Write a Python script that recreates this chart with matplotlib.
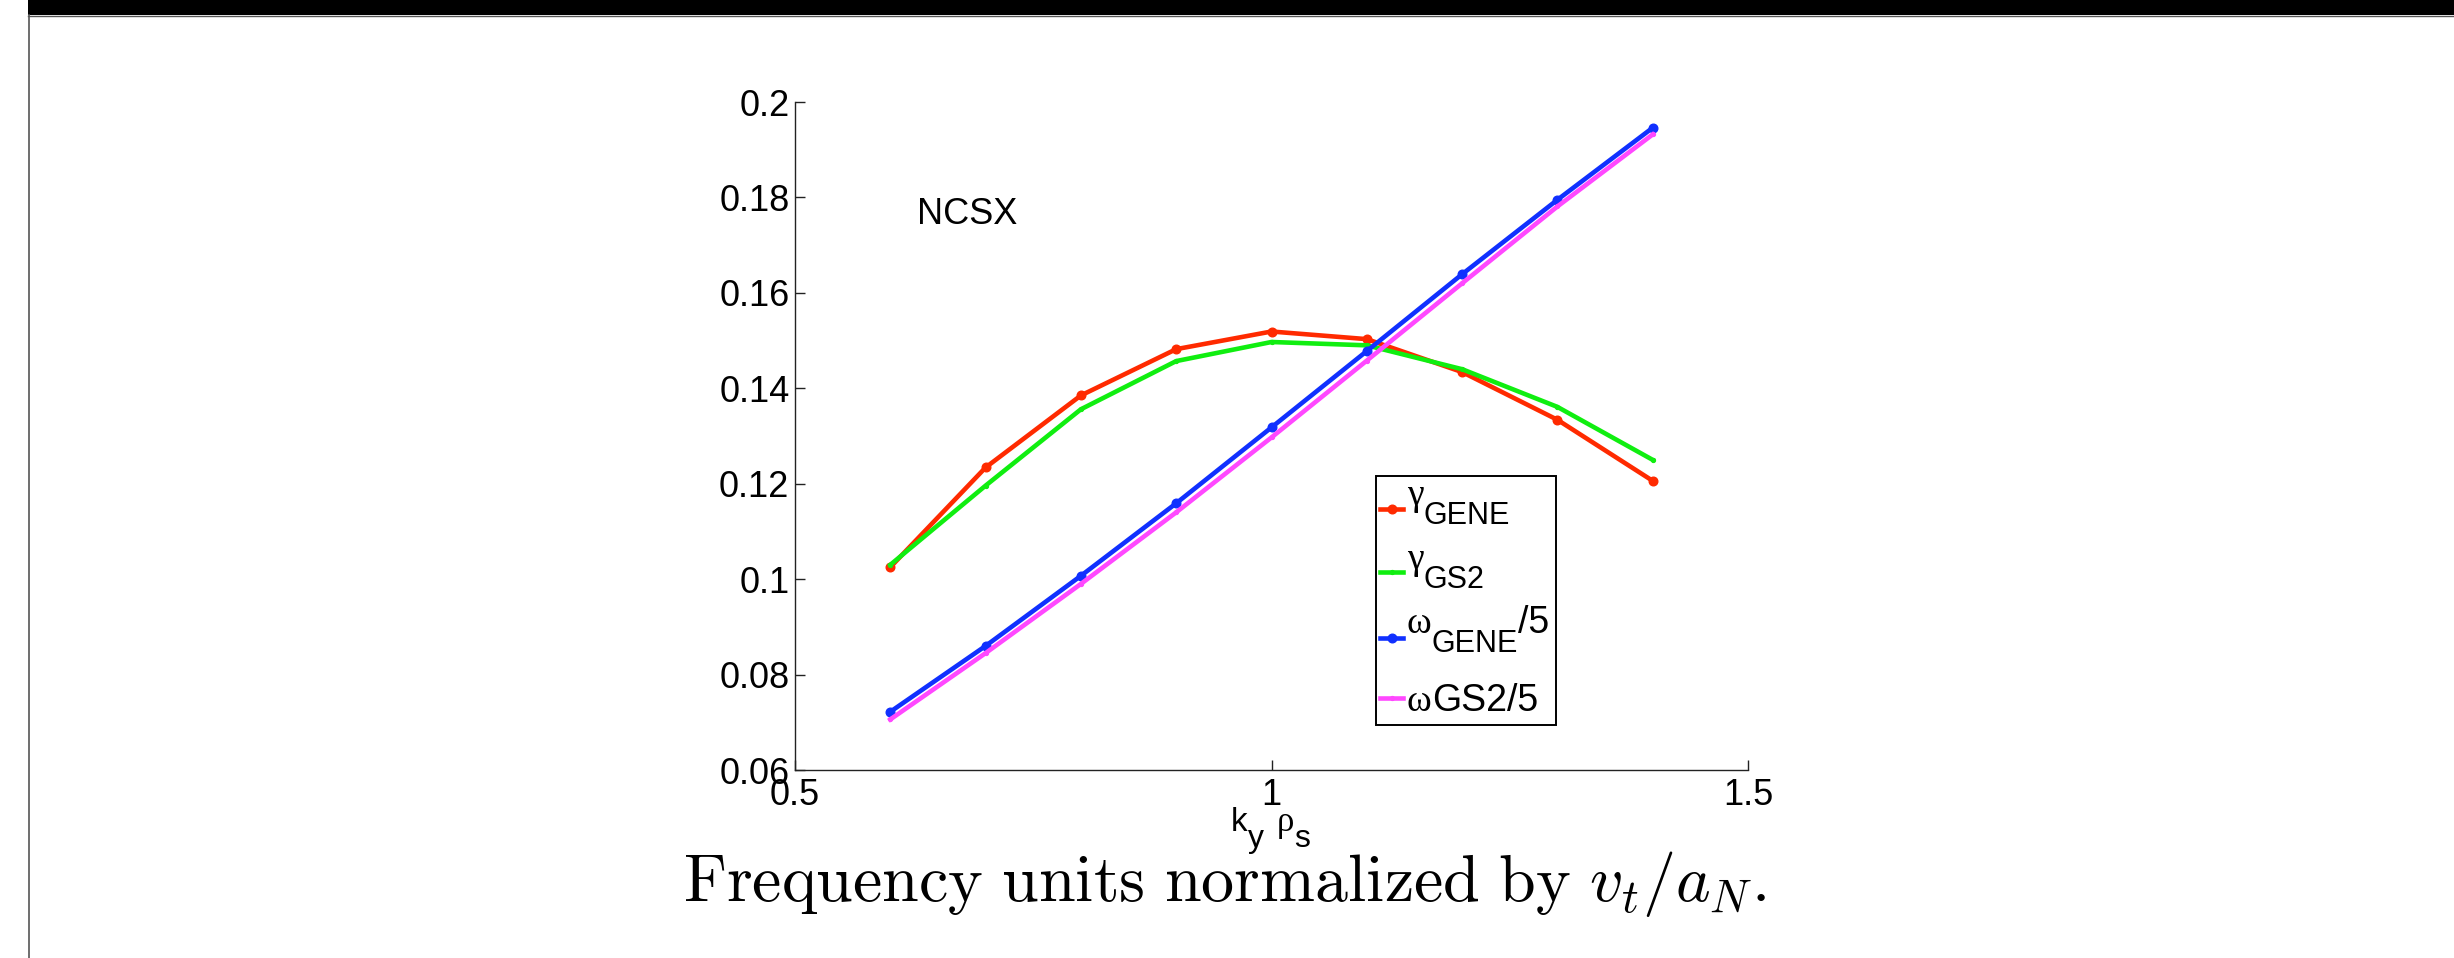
import matplotlib
matplotlib.use("Agg")
import matplotlib.pyplot as plt
from matplotlib.patches import Rectangle
from matplotlib.lines import Line2D

# Growth rates and real frequencies versus k_y rho_s (NCSX case)
ky = [0.6, 0.7, 0.8, 0.9, 1.0, 1.1, 1.2, 1.3, 1.4]
gamma_gene = [0.1025, 0.1234, 0.1385, 0.1482, 0.1519, 0.1503, 0.1434, 0.1334, 0.1206]
gamma_gs2 = [0.1030, 0.1196, 0.1356, 0.1457, 0.1497, 0.1490, 0.1440, 0.1361, 0.1250]
omega_gene_5 = [0.0722, 0.0860, 0.1007, 0.1159, 0.1318, 0.1478, 0.1639, 0.1795, 0.1946]
omega_gs2_5 = [0.0706, 0.0845, 0.0990, 0.1140, 0.1297, 0.1458, 0.1620, 0.1781, 0.1932]

# legend entries as (symbol, subscript, suffix)
legend_parts = [('γ', 'GENE', ''), ('γ', 'GS2', ''),
                ('ω', 'GENE', '/5'), ('ω', '', 'GS2/5')]
xticks = [0.5, 1.0, 1.5]
xtick_labels = ['0.5', '1', '1.5']
yticks = [0.06, 0.08, 0.10, 0.12, 0.14, 0.16, 0.18, 0.20]
ytick_labels = ['0.06', '0.08', '0.1', '0.12', '0.14', '0.16', '0.18', '0.2']
colors = ['#FF2A00', '#10EE10', '#1030FF', '#FF48FF']
marker_sizes = [6.2, 2.8, 6.2, 2.8]

SANS = ['Liberation Sans', 'DejaVu Sans']
SERIF = ['Liberation Serif', 'DejaVu Serif']
plt.rcParams['font.family'] = SANS

W, H = 2454, 958
fig = plt.figure(figsize=(W / 100, H / 100), dpi=100)
fig.patch.set_facecolor('white')
renderer = fig.canvas.get_renderer()


def fx(px):
    return px / W


def fy(py):
    return 1 - py / H


def put(x, y, s, size, family=SANS):
    """Place text with its left baseline at pixel (x, y); return the end x."""
    t = fig.text(fx(x), fy(y), s, fontsize=size, family=family,
                 ha='left', va='baseline', zorder=8)
    return x + t.get_window_extent(renderer).width


# page frame: black strip on top and a thin rule at the left
fig.add_artist(Rectangle((fx(28), fy(15)), 1 - fx(28), 15 / H,
                         transform=fig.transFigure, facecolor='black',
                         edgecolor='none'))
fig.add_artist(Line2D([fx(28), 1], [fy(15.5), fy(15.5)],
                      transform=fig.transFigure, color='#555555', lw=1.0))
fig.add_artist(Line2D([fx(28.5), fx(28.5)], [0, fy(15)],
                      transform=fig.transFigure, color='#555555', lw=1.2))

left, right, bottom, top = fx(795), fx(1748), fy(770), fy(102)
ax = fig.add_axes([left, bottom, right - left, top - bottom])

lw = 3.3
series = [gamma_gene, gamma_gs2, omega_gene_5, omega_gs2_5]
for vals, c, ms in zip(series, colors, marker_sizes):
    ax.plot(ky, vals, '-o', color=c, lw=lw, ms=ms, mec=c)

ax.set_xlim(0.5, 1.5)
ax.set_ylim(0.06, 0.2)
ax.set_xticks(xticks)
ax.set_xticklabels(xtick_labels)
ax.set_yticks(yticks)
ax.set_yticklabels(ytick_labels)
for s in ('top', 'right'):
    ax.spines[s].set_visible(False)
for s in ('left', 'bottom'):
    ax.spines[s].set_color('#222222')
    ax.spines[s].set_linewidth(1.0)
ax.tick_params(direction='in', length=7.2, width=1.0, colors='#222222',
               labelcolor='black', labelsize=26)
ax.tick_params(axis='x', pad=6)
ax.tick_params(axis='y', pad=4)

ax.text(0.628, 0.1744, 'NCSX', fontsize=26, ha='left', va='baseline')

# x-axis label k_y rho_s with full-size, dropped subscripts
xe = put(1231, 831, 'k', 24)
put(xe, 847, 'y', 23)
xe = put(1277, 831, 'ρ', 25, SERIF)
put(xe, 847, 's', 23)

# legend box
fig.add_artist(Rectangle((fx(1376), fy(725)), (1556 - 1376) / W, (725 - 476) / H,
                         transform=fig.transFigure, facecolor='white',
                         edgecolor='black', lw=1.4, zorder=5))
handle_y = [509, 572, 638, 698]
main_base = [505, 569, 633, 711]
for (sym, sub, suf), c, ms, hy, by in zip(legend_parts, colors, marker_sizes,
                                          handle_y, main_base):
    fig.add_artist(Line2D([fx(1380), fx(1403)], [fy(hy), fy(hy)],
                          transform=fig.transFigure, color=c, lw=lw,
                          zorder=6))
    fig.add_artist(Line2D([fx(1391.5)], [fy(hy)], transform=fig.transFigure,
                          color=c, marker='o', ms=ms, mec=c, lw=0, zorder=6))
    xe = put(1407, by, sym, 27, SERIF)
    if sub:
        xe = put(xe, by + 19, sub, 22)
    if suf:
        put(xe, by, suf, 27)

fig.text(fx(1224), fy(884),
         r'$\mathrm{Frequency\ units\ normalized\ by\ }v_t/a_N.$',
         fontsize=47.5, ha='center', va='center', math_fontfamily='cm')

fig.savefig('out.png', dpi=100)
